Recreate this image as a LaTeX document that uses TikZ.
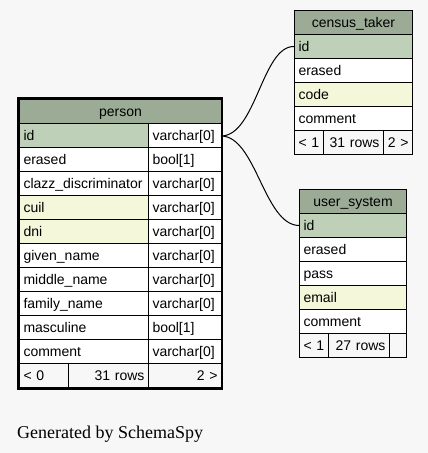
\documentclass[tikz,border=0pt]{standalone}
\usepackage{fontspec}
\setmainfont{Liberation Sans}
\newfontfamily\serifgen{Liberation Serif}
\definecolor{bg}{HTML}{F7F7F7}
\definecolor{hdr}{HTML}{9BAB96}
\definecolor{pk}{HTML}{BED1B8}
\definecolor{idx}{HTML}{F4F7DA}
\tikzset{
  tcell/.style={draw=black, line width=1pt, inner xsep=4pt, inner ysep=0pt,
    minimum height=24pt, text height=10pt, text depth=0pt,
    font=\fontsize{14}{16}\selectfont, anchor=north west},
  edge/.style={draw=black, line width=1pt},
  frame/.style={draw=black, line width=2.5pt}
}
\newcommand\tcell[7]{\pgfmathsetlengthmacro\tcw{(#4-8)*1pt}%
  \node[tcell, fill=#5, minimum width=#4pt, text width=\tcw, align=#6] (#1) at (#2,#3) {#7};}
\begin{document}
\begin{tikzpicture}[x=1pt,y=-1pt]
\fill[bg] (0,0) rectangle (428,453);
\useasboundingbox (0,0) rectangle (428,453);

% relationships
\coordinate (p-start) at (221,136);

% person
\tcell{p-h}{19}{99}{202}{hdr}{center}{person}
\tcell{p-id}{19}{123}{129}{pk}{left}{id}
\tcell{p-id-t}{148}{123}{73}{white}{left}{varchar[0]}
\tcell{p-er}{19}{147}{129}{white}{left}{erased}
\tcell{p-er-t}{148}{147}{73}{white}{left}{bool[1]}
\tcell{p-cl}{19}{171}{129}{white}{left}{clazz\_discriminator}
\tcell{p-cl-t}{148}{171}{73}{white}{left}{varchar[0]}
\tcell{p-cu}{19}{195}{129}{idx}{left}{cuil}
\tcell{p-cu-t}{148}{195}{73}{white}{left}{varchar[0]}
\tcell{p-dn}{19}{219}{129}{idx}{left}{dni}
\tcell{p-dn-t}{148}{219}{73}{white}{left}{varchar[0]}
\tcell{p-gn}{19}{243}{129}{white}{left}{given\_name}
\tcell{p-gn-t}{148}{243}{73}{white}{left}{varchar[0]}
\tcell{p-mn}{19}{267}{129}{white}{left}{middle\_name}
\tcell{p-mn-t}{148}{267}{73}{white}{left}{varchar[0]}
\tcell{p-fn}{19}{291}{129}{white}{left}{family\_name}
\tcell{p-fn-t}{148}{291}{73}{white}{left}{varchar[0]}
\tcell{p-ma}{19}{315}{129}{white}{left}{masculine}
\tcell{p-ma-t}{148}{315}{73}{white}{left}{bool[1]}
\tcell{p-co}{19}{339}{129}{white}{left}{comment}
\tcell{p-co-t}{148}{339}{73}{white}{left}{varchar[0]}
\tcell{p-f1}{19}{363}{49}{bg}{left}{< 0}
\tcell{p-f2}{68}{363}{80}{bg}{right}{31 rows}
\tcell{p-f3}{148}{363}{73}{bg}{right}{2 >}
\draw[frame] (18,98.5) rectangle (222,389);

% census_taker
\tcell{c-h}{294}{10}{118}{hdr}{center}{census\_taker}
\tcell{c-id}{294}{34}{118}{pk}{left}{id}
\tcell{c-er}{294}{58}{118}{white}{left}{erased}
\tcell{c-cd}{294}{82}{118}{idx}{left}{code}
\tcell{c-co}{294}{106}{118}{white}{left}{comment}
\tcell{c-f1}{294}{130}{29}{bg}{left}{< 1}
\tcell{c-f2}{323}{130}{60}{bg}{right}{31 rows}
\tcell{c-f3}{383}{130}{29}{bg}{right}{2 >}

% user_system
\tcell{u-h}{299}{189}{107}{hdr}{center}{user\_system}
\tcell{u-id}{299}{213}{107}{pk}{left}{id}
\tcell{u-er}{299}{237}{107}{white}{left}{erased}
\tcell{u-pa}{299}{261}{107}{white}{left}{pass}
\tcell{u-em}{299}{285}{107}{idx}{left}{email}
\tcell{u-co}{299}{309}{107}{white}{left}{comment}
\tcell{u-f1}{299}{333}{29}{bg}{left}{< 1}
\tcell{u-f2}{328}{333}{61}{bg}{right}{27 rows}
\tcell{u-f3}{389}{333}{17}{bg}{right}{}

\draw[edge] (p-start) .. controls (256,136) and (262,46) .. (c-id.west);
\draw[edge] (p-start) .. controls (256,136) and (264,225) .. (u-id.west);

\node[anchor=base west, inner sep=0pt, font=\serifgen\fontsize{18}{20}\selectfont] (gen) at (17,438) {Generated by SchemaSpy};
\end{tikzpicture}
\end{document}
